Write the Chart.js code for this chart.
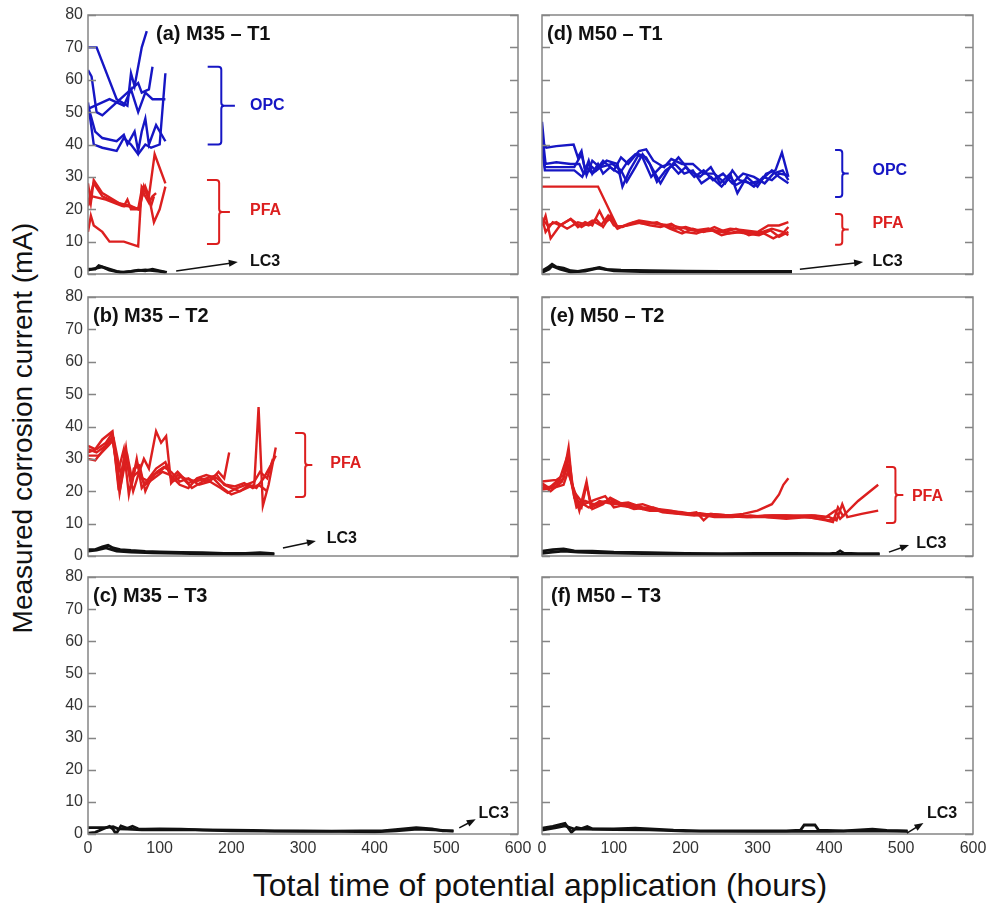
<!DOCTYPE html>
<html lang="en">
<head>
<meta charset="UTF-8">
<title>Measured corrosion current</title>
<style>
  html, body { margin: 0; padding: 0; background: #fff; overflow: hidden; }
  #wrap { position: relative; width: 989px; height: 909px; font-family: "Liberation Sans", Arial, sans-serif; }
  #wrap canvas { position: absolute; }
  .ytitle { position: absolute; left: 23px; top: 428px; transform: translate(-50%, -50%) rotate(-90deg);
            white-space: nowrap; font-size: 28px; color: #111; }
  .xtitle { position: absolute; left: 540px; top: 885px; transform: translate(-50%, -50%);
            white-space: nowrap; font-size: 32px; color: #111; }
</style>
<script src="https://cdn.jsdelivr.net/npm/chart.js"></script>
</head>
<body>
<div id="wrap">
  <div class="ytitle">Measured corrosion current (mA)</div>
  <div class="xtitle">Total time of potential application (hours)</div>
</div>
<script>
// axis ticks
const xTicks = [0, 100, 200, 300, 400, 500, 600];
const yTicks = [0, 10, 20, 30, 40, 50, 60, 70, 80];

// (a) M35 - T1   [hours, mA]
const a_opc1 = [[0,70],[12,70],[40,54],[55,52],[60,62],[65,58],[75,70],[82,75]];
const a_opc2 = [[0,63],[5,61],[12,50],[20,49],[40,53],[55,56],[70,59],[75,56],[85,57],[90,64]];
const a_opc3 = [[0,51],[10,52],[30,54],[50,52],[60,57],[70,50],[80,56],[90,54],[100,54],[108,54]];
const a_opc4 = [[0,52],[10,44],[20,42],[40,41],[50,43],[55,40],[65,44],[70,38],[75,44],[80,48],[85,40],[95,46],[108,41]];
const a_opc5 = [[0,53],[8,40],[20,39],[40,38],[50,42],[60,40],[70,37],[80,40],[88,39],[100,40],[108,62]];
const a_pfa1 = [[0,28],[4,22],[8,29],[20,25],[50,21],[55,23],[60,20],[70,20],[80,27],[85,24],[93,37],[108,28]];
const a_pfa2 = [[0,13],[4,18],[8,15],[20,13],[30,10],[50,10],[70,8.5],[75,27],[85,24],[92,16],[100,20],[108,27]];
const a_pfa3 = [[0,22],[4,25],[8,28],[20,24],[40,22],[60,21],[70,20],[75,26],[85,22],[90,24],[95,25]];
const a_pfa4 = [[0,21],[6,24],[25,23],[48,21],[55,21],[72,20],[78,27],[88,21],[92,24]];
const a_lc3a = [[0,1.5],[10,1.5],[15,2.6],[20,2.2],[30,1.5],[40,0.8],[50,0.5],[60,0.8],[70,1.2],[80,1],[90,1.5],[100,1],[110,0.5]];
const a_lc3b = [[0,1.2],[12,1.8],[20,2.2],[30,1.2],[45,0.5],[60,0.8],[80,1.3],[100,0.8],[108,0.5]];

// (b) M35 - T2
const b_pfa1 = [[0,34],[10,33],[20,36],[34,38.5],[42,22],[48,27],[53,33.5],[58,25],[63,20],[70,25],[78,30],[85,27],[95,38.5],[102,35],[109,37],[116,22.5],[125,25],[135,24],[150,23],[165,24],[180,25],[190,22],[200,21],[212,20],[222,21],[232,22],[238,46],[244,15.5],[252,22],[262,33.5]];
const b_pfa2 = [[0,32],[12,33],[25,35],[34,38],[44,19.5],[50,28],[55,31],[62,23],[68,30],[75,21],[85,24],[95,27],[108,29],[116,24],[125,26],[140,22.5],[155,24],[170,23],[182,26],[190,24],[197,32]];
const b_pfa3 = [[0,30],[10,29.5],[22,33],[34,36],[42,26],[50,33],[57,19],[64,27],[72,28],[80,20],[90,25],[100,26],[110,28],[118,23],[130,24.5],[145,21],[160,23],[175,24],[188,21],[200,19],[212,20],[225,22],[235,21],[245,24],[255,28],[262,31]];
const b_pfa4 = [[0,31],[15,31],[28,34],[36,36],[46,25],[52,32],[60,22],[68,29],[76,24],[86,23],[96,26],[106,27.5],[116,26],[128,23],[140,24],[155,22],[170,23],[185,21],[195,19.5],[208,21],[220,22],[232,23],[240,26],[250,24],[258,30]];
const b_pfa5 = [[0,33],[12,32],[24,34],[35,37],[45,21],[53,30],[60,24],[70,26],[80,22],[92,24],[104,26],[115,25],[128,22],[140,21],[152,24],[165,25],[180,24],[192,22],[205,21.5],[218,22.5],[230,21],[238,22],[250,20]];
const b_lc3a = [[0,2],[10,2],[20,2.8],[28,3.3],[35,2.5],[45,2],[60,1.7],[80,1.4],[100,1.3],[130,1.1],[160,1],[190,0.8],[220,0.8],[240,1],[260,0.7]];
const b_lc3b = [[0,1.5],[12,1.8],[25,2.5],[40,1.5],[60,1.2],[90,1],[130,0.8],[170,0.6],[210,0.5],[240,0.7],[260,0.5]];

// (c) M35 - T3
const c_lc3a = [[0,0.3],[10,0.5],[20,1.5],[30,2.4],[35,1.5],[39,0],[46,2.5],[55,1.8],[62,2.4],[70,1.6],[80,1.5],[100,1.6],[130,1.5],[160,1.3],[200,1.2],[230,1.1],[260,1],[300,1],[340,0.9],[380,1],[410,1],[440,1.6],[458,2],[480,1.6],[495,1],[510,1]];
const c_lc3b = [[0,2],[10,2],[25,2],[35,2.3],[42,1.6],[55,1.5],[75,1.3],[110,1.4],[150,1.3],[200,1],[250,0.9],[300,0.8],[350,0.8],[400,0.7],[430,1],[460,1.5],[490,1.2],[510,0.9]];

// (d) M50 - T1
const d_opc1 = [[0,47],[3,40],[6,39],[20,39.5],[44,40],[50,36],[55,38],[60,32],[65,35],[70,31],[78,34],[85,31],[95,33],[100,32],[110,36],[120,34],[135,38],[145,38.5],[155,35],[170,33],[180,35.5],[195,34],[210,34],[225,31],[240,31],[255,28],[265,32],[275,29],[290,28],[305,29],[320,32],[330,30],[343,28]];
const d_opc2 = [[0,42],[4,33],[15,33],[30,33],[45,33],[55,37],[62,30.5],[70,35],[80,33],[90,35],[105,34],[112,27],[122,32],[135,37],[145,36],[155,32],[165,28],[178,33],[190,36],[205,32],[220,30],[235,33],[248,28],[262,31],[272,25],[285,30],[300,27],[312,31],[325,32],[334,37.5],[343,30]];
const d_opc3 = [[0,44],[5,34],[20,34.5],[40,34],[52,34],[58,31],[65,34],[75,32],[85,35],[95,33],[108,31],[120,35],[130,37],[140,36],[152,30],[165,33],[178,34],[190,31],[200,33],[212,30],[225,32],[238,29],[252,31],[265,28],[280,31],[295,30],[310,28],[322,31],[335,32],[343,29]];
const d_opc4 = [[0,39],[4,32],[12,32],[28,32],[45,32],[56,30],[62,33],[70,31],[82,33],[98,34],[110,32],[118,28.5],[130,33],[140,37],[150,34],[160,28.5],[172,32],[185,34],[198,31],[210,32],[222,28],[235,30],[250,27],[262,30],[270,27.5],[282,29],[295,27],[308,30],[320,29],[330,31],[343,30.5]];
const d_pfa1 = [[0,27],[78,27],[105,14.5],[120,15],[140,16],[160,15.5],[180,15],[200,14],[220,13],[240,13.5],[260,12.5],[280,13],[300,12.5],[320,14],[335,13],[343,12]];
const d_pfa2 = [[0,17.5],[5,13],[15,16],[25,15],[40,17],[50,14.5],[60,16],[70,15],[80,19.5],[88,16],[95,17],[105,14],[120,15.5],[135,16.5],[150,16],[170,15],[185,14],[200,14.5],[215,13.5],[230,14],[245,13],[262,14],[280,13.5],[300,13],[315,15],[330,15],[343,16]];
const d_pfa3 = [[0,15],[5,18],[12,11],[25,15],[40,17],[55,14.5],[70,16.5],[82,15],[92,18],[100,15],[112,14.5],[128,16],[145,15.5],[160,16],[178,14],[195,12.5],[210,14],[225,13],[240,14.5],[255,13],[270,14],[288,12],[305,13],[322,11],[335,12.5],[343,14.5]];
const d_pfa4 = [[0,17],[8,15],[20,16],[35,14],[50,16],[65,15],[75,17],[85,14.5],[95,18],[105,14.5],[118,15],[132,16],[150,15],[165,14.5],[180,15.5],[198,13],[215,12.5],[232,14],[250,12],[268,13],[285,12.5],[302,12],[318,13.5],[330,11.5],[343,13]];
const d_lc3a = [[0,1],[8,2],[14,3],[20,2.2],[30,1.8],[40,1],[50,0.8],[60,1.2],[70,1.6],[80,2],[90,1.4],[110,1.2],[150,1],[200,0.9],[250,0.8],[300,0.8],[348,0.8]];
const d_lc3b = [[0,0.5],[10,1.5],[14,2.5],[25,1.5],[40,0.6],[60,0.9],[78,1.8],[100,1],[150,0.7],[250,0.6],[348,0.6]];

// (e) M50 - T2
const e_pfa1 = [[0,23],[20,23.5],[30,25],[37,33.5],[42,22],[52,14],[62,23],[68,15],[80,17],[100,16],[120,16.5],[140,15],[160,14],[180,13.5],[200,13],[220,13.2],[240,12.5],[260,12.5],[280,13],[300,14],[320,16],[330,19],[336,22],[343,24]];
const e_pfa2 = [[0,21],[15,21.5],[30,24],[37,31],[45,18],[55,15],[62,22],[70,14.5],[85,16],[95,18],[108,16.5],[125,15.5],[140,16],[160,14.5],[180,14],[200,13],[215,13.5],[225,11],[235,13],[260,12.5],[290,12],[320,12.5],[350,12.5],[380,12.5],[400,12],[410,11],[418,16],[425,12],[445,13],[468,14]];
const e_pfa3 = [[0,22],[12,20],[28,23],[36,28],[44,20],[58,16],[75,17.5],[88,18.5],[100,15],[120,16],[140,14.5],[155,15],[175,13.5],[195,13],[215,13],[240,12],[265,12],[290,12.5],[315,12],[345,12],[375,12.5],[395,12],[408,14],[415,11.5],[440,17],[468,22]];
const e_pfa4 = [[0,20.5],[15,21],[30,22],[36,26],[50,17],[65,15],[80,16],[95,17.5],[110,15.5],[130,15],[150,14],[170,14],[195,13.5],[220,12.5],[250,12.5],[280,12],[310,12],[340,11.5],[370,12],[395,11],[405,10.5],[412,15],[420,12]];
const e_pfa5 = [[0,22.5],[10,21],[25,24],[34,30],[48,15],[60,17],[72,16],[90,17],[110,16],[128,14.5],[148,15],[168,13.5],[190,13],[212,12.5],[235,13],[260,12.5],[285,12],[310,12.5],[340,12.5],[365,12],[390,11.5],[400,11],[410,12]];
const e_lc3a = [[0,1.5],[15,2],[30,2.2],[45,1.6],[70,1.5],[100,1.2],[150,1],[200,0.8],[250,0.7],[300,0.8],[350,0.8],[400,0.7],[410,0.9],[415,1.6],[420,0.9],[440,0.7],[470,0.7]];
const e_lc3b = [[0,0.8],[15,1.2],[30,1.5],[50,1.2],[80,1],[120,0.8],[180,0.6],[250,0.5],[350,0.5],[470,0.5]];

// (f) M50 - T3
const f_lc3a = [[0,1.8],[15,2.4],[32,3.3],[41,0.5],[48,2],[55,1.7],[63,2.3],[70,1.6],[100,1.6],[130,1.8],[150,1.6],[183,1.2],[220,1],[280,1],[340,1],[360,1.2],[365,2.8],[380,2.8],[385,1.2],[420,1],[460,1.5],[480,1.1],[509,1]];
const f_lc3b = [[0,1.2],[20,2],[32,2.5],[45,1.5],[60,1.5],[100,1.4],[150,1.3],[200,0.9],[300,0.8],[400,0.8],[450,1],[509,0.8]];

const BLUE = '#1616c4';
const RED = '#dc1f1f';
const BLACK = '#111111';
const FONT = '"Liberation Sans", Arial, sans-serif';

// plot area edges in the page
const colLeft = [88, 542];
const colRight = [518, 973];
const rowTop = [15, 297, 577];
const rowBottom = [274, 556, 834];

const panels = [
  { col: 0, row: 0, title: '(a) M35 \u2013 T1', tdx: 68,
    lines: [[a_opc1, BLUE], [a_opc2, BLUE], [a_opc3, BLUE], [a_opc4, BLUE], [a_opc5, BLUE],
            [a_pfa1, RED], [a_pfa2, RED], [a_pfa3, RED], [a_pfa4, RED], [a_lc3a, BLACK], [a_lc3b, BLACK]],
    brackets: [{ x1: 167, xv: 186, x2: 205, top: 64, bot: 40, color: BLUE },
               { x1: 166, xv: 183, x2: 198, top: 29, bot: 9.3, color: RED }],
    labels: [{ t: 'OPC', x: 226, y: 52, color: BLUE }, { t: 'PFA', x: 226, y: 19.5, color: RED },
             { t: 'LC3', x: 226, y: 3.7, color: BLACK }],
    arrows: [[123, 0.9, 209, 3.7]] },
  { col: 0, row: 1, title: '(b) M35 \u2013 T2', tdx: 5,
    lines: [[b_pfa1, RED], [b_pfa2, RED], [b_pfa3, RED], [b_pfa4, RED], [b_pfa5, RED], [b_lc3a, BLACK], [b_lc3b, BLACK]],
    brackets: [{ x1: 289, xv: 303, x2: 313, top: 38, bot: 18.2, color: RED }],
    labels: [{ t: 'PFA', x: 338, y: 28.4, color: RED }, { t: 'LC3', x: 333, y: 5.4, color: BLACK }],
    arrows: [[272, 2.5, 318, 4.6]] },
  { col: 0, row: 2, title: '(c) M35 \u2013 T3', tdx: 5,
    lines: [[c_lc3a, BLACK], [c_lc3b, BLACK]],
    brackets: [],
    labels: [{ t: 'LC3', x: 545, y: 6.4, color: BLACK }],
    arrows: [[518, 1.9, 541, 4.6]] },
  { col: 1, row: 0, title: '(d) M50 \u2013 T1', tdx: 5,
    lines: [[d_opc1, BLUE], [d_opc2, BLUE], [d_opc3, BLUE], [d_opc4, BLUE],
            [d_pfa1, RED], [d_pfa2, RED], [d_pfa3, RED], [d_pfa4, RED], [d_lc3a, BLACK], [d_lc3b, BLACK]],
    brackets: [{ x1: 408, xv: 418, x2: 427, top: 38.3, bot: 23.8, color: BLUE },
               { x1: 408, xv: 418, x2: 427, top: 18.5, bot: 9, color: RED }],
    labels: [{ t: 'OPC', x: 460, y: 32, color: BLUE }, { t: 'PFA', x: 460, y: 15.5, color: RED },
             { t: 'LC3', x: 460, y: 3.7, color: BLACK }],
    arrows: [[359, 1.5, 447, 3.7]] },
  { col: 1, row: 1, title: '(e) M50 \u2013 T2', tdx: 8,
    lines: [[e_pfa1, RED], [e_pfa2, RED], [e_pfa3, RED], [e_pfa4, RED], [e_pfa5, RED], [e_lc3a, BLACK], [e_lc3b, BLACK]],
    brackets: [{ x1: 479, xv: 492, x2: 503, top: 27.5, bot: 10.2, color: RED }],
    labels: [{ t: 'PFA', x: 515, y: 18.5, color: RED }, { t: 'LC3', x: 521, y: 3.7, color: BLACK }],
    arrows: [[483, 1.2, 511, 3.4]] },
  { col: 1, row: 2, title: '(f) M50 \u2013 T3', tdx: 9,
    lines: [[f_lc3a, BLACK], [f_lc3b, BLACK]],
    brackets: [],
    labels: [{ t: 'LC3', x: 536, y: 6.5, color: BLACK }],
    arrows: [[508, 0.3, 531, 3.4]] }
];

// frame, inward ticks and the notes drawn over each panel
const notesPlugin = {
  id: 'notes',
  afterDatasetsDraw(chart) {
    const p = chart.options.plugins.notes;
    const ctx = chart.ctx;
    const a = chart.chartArea;
    const xs = chart.scales.x, ys = chart.scales.y;
    ctx.save();
    ctx.strokeStyle = '#858585';
    ctx.lineWidth = 1.5;
    ctx.strokeRect(a.left, a.top, a.right - a.left, a.bottom - a.top);
    yTicks.forEach(v => {
      const py = Math.round(ys.getPixelForValue(v)) + 0.5;
      ctx.beginPath();
      ctx.moveTo(a.left, py); ctx.lineTo(a.left + 8, py);
      ctx.moveTo(a.right, py); ctx.lineTo(a.right - 8, py);
      ctx.stroke();
    });

    ctx.fillStyle = '#111';
    ctx.font = 'bold 20px ' + FONT;
    ctx.textBaseline = 'middle';
    ctx.textAlign = 'left';
    ctx.fillText(p.title, a.left + p.tdx, a.top + 19);

    ctx.lineWidth = 2;
    p.brackets.forEach(b => {
      const x1 = xs.getPixelForValue(b.x1), xv = xs.getPixelForValue(b.xv), x2 = xs.getPixelForValue(b.x2);
      const yt = ys.getPixelForValue(b.top), yb = ys.getPixelForValue(b.bot);
      const ym = (yt + yb) / 2;
      ctx.strokeStyle = b.color;
      ctx.beginPath();
      ctx.moveTo(x1, yt); ctx.lineTo(xv - 3, yt); ctx.quadraticCurveTo(xv, yt, xv, yt + 3);
      ctx.lineTo(xv, ym - 3); ctx.quadraticCurveTo(xv, ym, xv + 3, ym); ctx.lineTo(x2, ym);
      ctx.moveTo(xv + 3, ym); ctx.quadraticCurveTo(xv, ym, xv, ym + 3);
      ctx.lineTo(xv, yb - 3); ctx.quadraticCurveTo(xv, yb, xv - 3, yb); ctx.lineTo(x1, yb);
      ctx.stroke();
    });

    ctx.font = 'bold 16px ' + FONT;
    p.labels.forEach(l => {
      ctx.fillStyle = l.color;
      ctx.fillText(l.t, xs.getPixelForValue(l.x), ys.getPixelForValue(l.y));
    });

    ctx.strokeStyle = '#111';
    ctx.fillStyle = '#111';
    ctx.lineWidth = 1.5;
    p.arrows.forEach(ar => {
      const x1 = xs.getPixelForValue(ar[0]), y1 = ys.getPixelForValue(ar[1]);
      const x2 = xs.getPixelForValue(ar[2]), y2 = ys.getPixelForValue(ar[3]);
      const ang = Math.atan2(y2 - y1, x2 - x1);
      ctx.beginPath();
      ctx.moveTo(x1, y1); ctx.lineTo(x2 - 6 * Math.cos(ang), y2 - 6 * Math.sin(ang));
      ctx.stroke();
      ctx.beginPath();
      ctx.moveTo(x2, y2);
      ctx.lineTo(x2 - 9 * Math.cos(ang) + 3.5 * Math.sin(ang), y2 - 9 * Math.sin(ang) - 3.5 * Math.cos(ang));
      ctx.lineTo(x2 - 9 * Math.cos(ang) - 3.5 * Math.sin(ang), y2 - 9 * Math.sin(ang) + 3.5 * Math.cos(ang));
      ctx.closePath();
      ctx.fill();
    });
    ctx.restore();
  }
};

function makePanel(p) {
  const wrap = document.getElementById('wrap');
  const yAxisW = p.col === 0 ? 88 : 48;
  const canvasLeft = colLeft[p.col] - yAxisW;
  const padTop = 10, padRight = 14;
  const xAxisH = p.row === 2 ? 30 : 12;
  const canvas = document.createElement('canvas');
  const w = colRight[p.col] + padRight - canvasLeft;
  const h = rowBottom[p.row] - rowTop[p.row] + padTop + xAxisH;
  canvas.style.left = canvasLeft + 'px';
  canvas.style.top = (rowTop[p.row] - padTop) + 'px';
  canvas.style.width = w + 'px';
  canvas.style.height = h + 'px';
  canvas.width = w;
  canvas.height = h;
  wrap.appendChild(canvas);

  new Chart(canvas.getContext('2d'), {
    type: 'scatter',
    data: {
      datasets: p.lines.map(l => ({
        data: l[0],
        borderColor: l[1],
        borderWidth: l[1] === BLACK ? 2.8 : 2.4,
        showLine: true,
        pointRadius: 0,
        tension: 0
      }))
    },
    options: {
      responsive: false,
      animation: false,
      events: [],
      layout: { padding: { top: padTop, right: padRight, left: 0, bottom: 0 } },
      plugins: {
        legend: { display: false },
        tooltip: { enabled: false },
        notes: p
      },
      scales: {
        x: {
          type: 'linear', min: 0, max: 600,
          afterBuildTicks: s => { s.ticks = xTicks.map(v => ({ value: v })); },
          afterFit: s => { s.height = xAxisH; s.paddingLeft = 0; s.paddingRight = 0; },
          grid: { display: false, drawTicks: false },
          border: { display: false },
          ticks: { display: p.row === 2, padding: 5, color: '#333', font: { family: FONT, size: 16 } }
        },
        y: {
          min: 0, max: 80,
          afterBuildTicks: s => { s.ticks = yTicks.map(v => ({ value: v })); },
          afterFit: s => { s.width = yAxisW; s.paddingTop = 0; s.paddingBottom = 0; },
          grid: { display: false, drawTicks: false },
          border: { display: false },
          ticks: { display: p.col === 0, padding: 5, color: '#333', font: { family: FONT, size: 16 } }
        }
      }
    },
    plugins: [notesPlugin]
  });
}

panels.forEach(makePanel);
</script>
</body>
</html>
